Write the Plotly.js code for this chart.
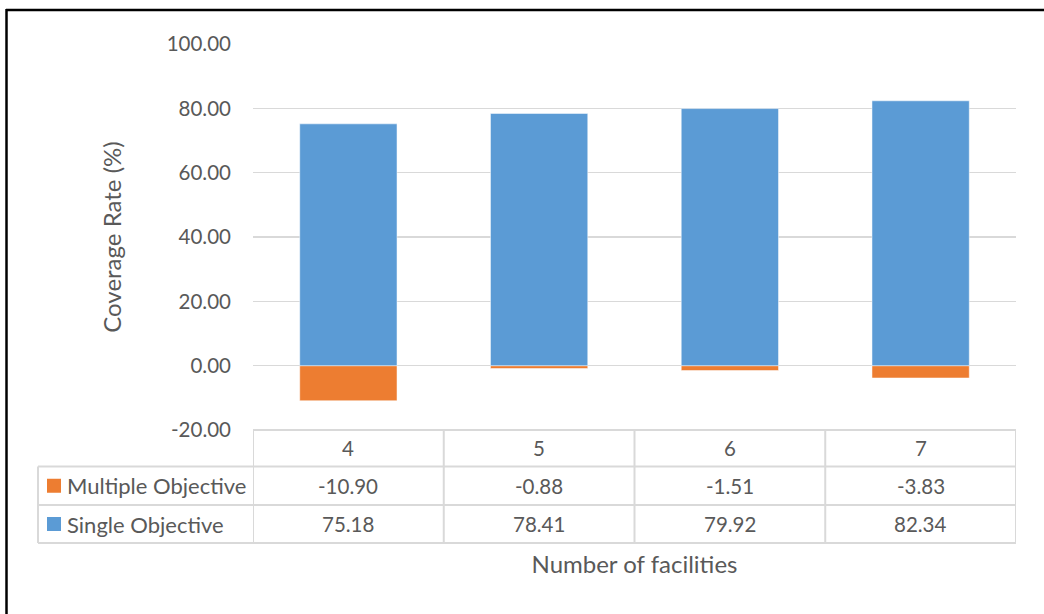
<!DOCTYPE html>
<html>
<head>
<meta charset="utf-8">
<script src="https://cdn.plot.ly/plotly-3.0.1.min.js"></script>
<style>html,body{margin:0;padding:0;background:#fff;}#chart{width:1044px;height:614px;}</style>
</head>
<body>
<div id="chart"></div>
<script>
const categories = ['4', '5', '6', '7'];
const multipleObjective = [-10.90, -0.88, -1.51, -3.83];
const singleObjective = [75.18, 78.41, 79.92, 82.34];
const seriesNames = ['Multiple Objective', 'Single Objective'];
const yTickValues = [-20, 0, 20, 40, 60, 80, 100];
const yTickLabels = yTickValues.map(v => v.toFixed(2));

const W = 1044, H = 614;
const L = 253, R = 1016, T = 44, B = 430;
const px = x => (x - L) / (R - L);
const py = y => (B - y) / (B - T);

const FONT = 'Lato, "Open Sans", sans-serif';
const TXT = '#595959';
const GRID = '#d9d9d9';
const BLUE = '#5B9BD5';
const ORANGE = '#ED7D31';

const traces = [
  {type: 'bar', name: seriesNames[0], x: categories, y: multipleObjective,
   marker: {color: ORANGE, line: {color: '#ffffff', width: 0.5}}, hoverinfo: 'x+y+name'},
  {type: 'bar', name: seriesNames[1], x: categories, y: singleObjective,
   marker: {color: BLUE, line: {color: '#ffffff', width: 0.5}}, hoverinfo: 'x+y+name'}
];

const rowY = [430, 466.5, 505, 543];
const shapes = [];
const line = (x0, y0, x1, y1, xref, color, width) => shapes.push({
  type: 'line', xref: xref, yref: 'paper', x0: x0, x1: x1, y0: y0, y1: y1,
  line: {color: color, width: width}, layer: 'above'
});
line(-0.5, py(rowY[0]), 3.5, py(rowY[0]), 'x', GRID, 2);
for (let i = 1; i < 4; i++) {
  shapes.push({type: 'line', xref: 'paper', yref: 'paper', x0: px(38), x1: 1, y0: py(rowY[i]), y1: py(rowY[i]), line: {color: GRID, width: 2}});
}
for (let k = 0; k <= categories.length; k++) {
  line(k - 0.5, py(rowY[0]), k - 0.5, py(rowY[3]), 'x', GRID, 2);
}
shapes.push({type: 'line', xref: 'paper', yref: 'paper', x0: px(38), x1: px(38), y0: py(rowY[1]), y1: py(rowY[3]), line: {color: GRID, width: 2}});
const keyColors = [ORANGE, BLUE];
for (let r = 0; r < 2; r++) {
  const cy = (rowY[r + 1] + rowY[r + 2]) / 2;
  shapes.push({type: 'rect', xref: 'paper', yref: 'paper', x0: px(47), x1: px(61), y0: py(cy - 7), y1: py(cy + 7), fillcolor: keyColors[r], line: {width: 0}});
}
shapes.push({type: 'line', xref: 'paper', yref: 'paper', x0: px(6), x1: px(1050), y0: py(10), y1: py(10), line: {color: '#000', width: 2.5}});
shapes.push({type: 'line', xref: 'paper', yref: 'paper', x0: px(6.5), x1: px(6.5), y0: py(9), y1: py(620), line: {color: '#000', width: 2.5}});

const annotations = [];
const cellFont = {family: FONT, size: 20.5, color: TXT};
const nameFont = {family: FONT, size: 22, color: TXT};
categories.forEach((c, i) => {
  annotations.push({xref: 'x', yref: 'paper', x: i, y: py((rowY[0] + rowY[1]) / 2), text: c, showarrow: false, font: cellFont, xanchor: 'center', yanchor: 'middle'});
  annotations.push({xref: 'x', yref: 'paper', x: i, y: py((rowY[1] + rowY[2]) / 2), text: multipleObjective[i].toFixed(2), showarrow: false, font: cellFont, xanchor: 'center', yanchor: 'middle'});
  annotations.push({xref: 'x', yref: 'paper', x: i, y: py((rowY[2] + rowY[3]) / 2), text: singleObjective[i].toFixed(2), showarrow: false, font: cellFont, xanchor: 'center', yanchor: 'middle'});
});
seriesNames.forEach((n, r) => {
  annotations.push({xref: 'paper', yref: 'paper', x: px(65), y: py((rowY[r + 1] + rowY[r + 2]) / 2), text: n, showarrow: false, font: nameFont, xanchor: 'left', yanchor: 'middle'});
});

const layout = {
  width: W, height: H,
  margin: {l: L, r: W - R, t: T, b: H - B, pad: 0},
  paper_bgcolor: '#ffffff', plot_bgcolor: '#ffffff',
  barmode: 'relative', bargap: 0.49,
  showlegend: false,
  font: {family: FONT, color: TXT},
  xaxis: {
    type: 'category', range: [-0.5, 3.5], showticklabels: false, showgrid: false,
    zeroline: false, showline: false, ticks: '', automargin: false,
    title: {text: 'Number of facilities', font: {family: FONT, size: 24, color: TXT}, standoff: 126}
  },
  yaxis: {
    range: [-20, 100], tickvals: yTickValues, ticktext: yTickLabels,
    showgrid: true, gridcolor: GRID, gridwidth: 1.5, zeroline: true, zerolinecolor: GRID, zerolinewidth: 1.5,
    showline: false, ticks: '', ticklabelstandoff: 21,
    tickfont: {family: FONT, size: 20.5, color: TXT},
    title: {text: 'Coverage Rate (%)', font: {family: FONT, size: 24, color: TXT}, standoff: 38},
    automargin: false
  },
  shapes: shapes,
  annotations: annotations
};

Plotly.newPlot('chart', traces, layout, {displayModeBar: false, staticPlot: true});
</script>
</body>
</html>
